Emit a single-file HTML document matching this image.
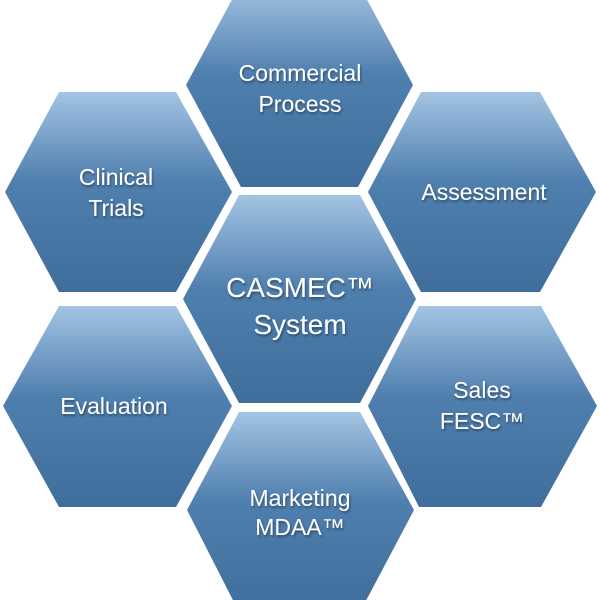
<!DOCTYPE html>
<html><head><style>body{margin:0;background:#fff}svg{display:block}</style></head><body>
<svg width="600" height="600" viewBox="0 0 600 600" xmlns="http://www.w3.org/2000/svg">
<defs>
<linearGradient id="g" x1="0" y1="0" x2="0" y2="1">
<stop offset="0" stop-color="#a3c4e3"/>
<stop offset="0.45" stop-color="#4f7fae"/>
<stop offset="1" stop-color="#3f6e9c"/>
</linearGradient>
<filter id="s" x="-10%" y="-10%" width="120%" height="130%"><feDropShadow dx="1" dy="2" stdDeviation="1" flood-color="#1a2a3a" flood-opacity="0.6"/></filter>
</defs>
<g fill="url(#g)">
<polygon points="241,-17 358,-17 413,85 358,187 241,187 186,85"/>
<polygon points="59,92 176,92 232,192 176,292 59,292 5,192"/>
<polygon points="421,92 540,92 596,192 540,292 421,292 368,192"/>
<polygon points="239,195 360,195 416,299 360,403 239,403 183,299"/>
<polygon points="59,306 176,306 232,406 176,507 59,507 3,406"/>
<polygon points="419,306 541,306 597,406 541,507 419,507 368,406"/>
<polygon points="239,412 360,412 414,510 360,612 239,612 187,510"/>
</g>
<g fill="#fff" font-family="Liberation Sans, sans-serif" font-size="23" text-anchor="middle" filter="url(#s)">
<text x="300" y="81">Commercial</text>
<text x="300" y="112">Process</text>
<text x="116" y="185">Clinical</text>
<text x="116" y="216">Trials</text>
<text x="484" y="200">Assessment</text>
<text x="300" y="297" font-size="28">CASMEC™</text>
<text x="300" y="334" font-size="28">System</text>
<text x="114" y="414">Evaluation</text>
<text x="482" y="398">Sales</text>
<text x="482" y="429">FESC™</text>
<text x="300" y="506">Marketing</text>
<text x="300" y="535">MDAA™</text>
</g>
</svg>
</body></html>
